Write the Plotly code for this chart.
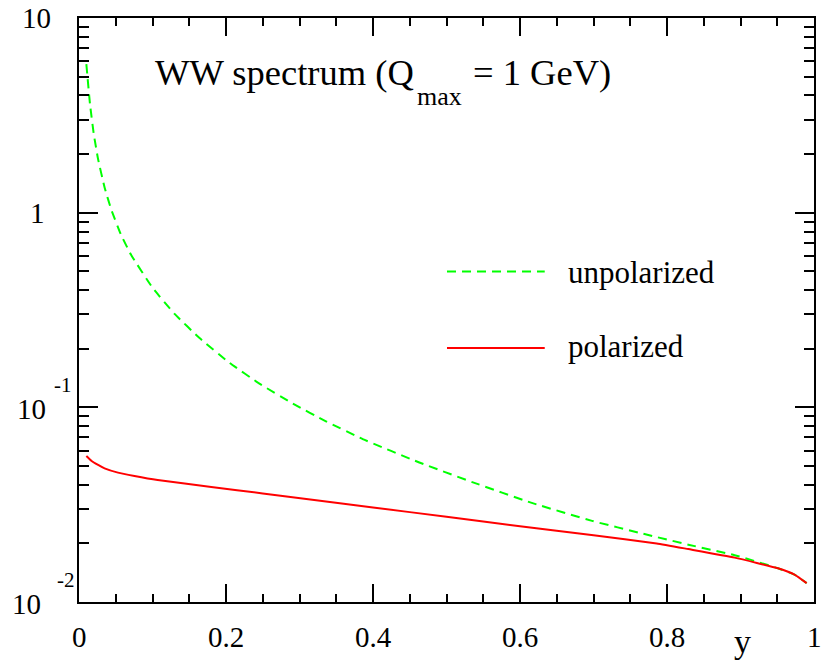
import math
import plotly.graph_objects as go

# Weizsaecker-Williams photon spectrum, Q_max = 1 GeV
y_unpol = [0.010, 0.015, 0.020, 0.026, 0.035, 0.044, 0.057, 0.071, 0.10, 0.13,
           0.164, 0.205, 0.246, 0.291, 0.336, 0.386, 0.463, 0.535, 0.616, 0.698,
           0.768, 0.829, 0.892, 0.951, 0.974, 0.990]
f_unpol = [5.8, 3.6, 2.55, 1.88, 1.34, 1.034, 0.772, 0.606, 0.412, 0.302,
           0.227, 0.169, 0.132, 0.1045, 0.0848, 0.0687, 0.0521, 0.0413, 0.0323, 0.0261,
           0.0224, 0.0197, 0.0174, 0.0149, 0.0138, 0.0125]

y_pol = [0.010, 0.0167, 0.026, 0.0348, 0.053, 0.0755, 0.107, 0.18, 0.25, 0.32, 0.40, 0.50,
         0.60, 0.70, 0.786, 0.829, 0.892, 0.951, 0.974, 0.990]
f_pol = [0.0562, 0.0532, 0.0506, 0.0486, 0.0462, 0.0444, 0.0423, 0.0390, 0.0361, 0.0334,
         0.0306, 0.0274, 0.0245, 0.0220, 0.0200, 0.0187, 0.0169, 0.0149, 0.0138, 0.0125]

# axis ticks
xtick_vals = [0, 0.2, 0.4, 0.6, 0.8, 1]
xtick_text = ["0", "0.2", "0.4", "0.6", "0.8", "1"]
# y-axis decade labels: value, mantissa text, exponent text
ytick_vals = [10, 1, 0.1, 0.01]
ytick_base = ["10", "1", "10", "10"]
ytick_exp = ["", "", "-1", "-2"]

series_names = ["unpolarized", "polarized"]
# title pieces: main text, subscript, remainder
title_parts = ["WW spectrum (Q", "max", "= 1 GeV)"]
xaxis_label = "y"

FONT = "Liberation Serif"
GREEN = "#00ff00"
RED = "#ff0000"

W, H = 821, 664
L, R, T, B = 79, 5, 18, 62
PW, PH = W - L - R, H - T - B


def px_x(px):
    return (px - L) / PW


def px_y(py):
    return (H - B - py) / PH


fig = go.Figure()
fig.add_trace(go.Scatter(x=y_unpol, y=f_unpol, mode="lines", name=series_names[0],
                         line=dict(color=GREEN, width=2, dash="9px,6px",
                                   shape="spline", smoothing=0.4),
                         showlegend=False))
fig.add_trace(go.Scatter(x=y_pol, y=f_pol, mode="lines", name=series_names[1],
                         line=dict(color=RED, width=2, shape="spline", smoothing=0.4),
                         showlegend=False))

axis_common = dict(showline=True, linewidth=2, linecolor="black", mirror="ticks",
                   ticks="inside", tickwidth=2, tickcolor="black",
                   showgrid=False, zeroline=False, showticklabels=False)

fig.update_xaxes(range=[0, 1], tickvals=xtick_vals, ticklen=18,
                 minor=dict(dtick=0.05, tick0=0, ticks="inside", ticklen=8, tickwidth=2,
                            tickcolor="black", showgrid=False),
                 **axis_common)
fig.update_yaxes(type="log", range=[-2, 1], dtick=1, ticklen=19,
                 minor=dict(dtick="D1", ticks="inside", ticklen=10, tickwidth=2,
                            tickcolor="black", showgrid=False),
                 **axis_common)

annotations = []
# tick labels under the horizontal axis, centred on their ticks
for v, t in zip(xtick_vals, xtick_text):
    annotations.append(dict(x=v, xref="x", y=px_y(637), yref="paper",
                            text=t, showarrow=False, xanchor="center", yanchor="middle",
                            font=dict(family=FONT, size=29, color="black")))

# decade labels on the value axis
base_right = {0: 53, 1: 47, 2: 48, 3: 43}
exp_left = {2: 52, 3: 55}
for i, (v, b, e) in enumerate(zip(ytick_vals, ytick_base, ytick_exp)):
    annotations.append(dict(x=px_x(base_right[i]), xref="paper", y=math.log10(v), yref="y",
                            text=b, showarrow=False, xanchor="right", yanchor="middle",
                            yshift=-2 if e else 0,
                            font=dict(family=FONT, size=29, color="black")))
    if e:
        annotations.append(dict(x=px_x(exp_left[i]), xref="paper", y=math.log10(v), yref="y",
                                text=e, showarrow=False, xanchor="left", yanchor="middle",
                                yshift=22,
                                font=dict(family=FONT, size=21, color="black")))

# title inside the frame, with a lowered subscript
title_layout = [(153, 72, 36.5), (416, 96.5, 26), (472, 72, 36.5)]
for txt, (tx, ty, fs) in zip(title_parts, title_layout):
    annotations.append(dict(x=px_x(tx), xref="paper", y=px_y(ty), yref="paper",
                            text=txt, showarrow=False, xanchor="left", yanchor="middle",
                            font=dict(family=FONT, size=fs, color="black")))

# x-axis label
annotations.append(dict(x=px_x(744), xref="paper", y=px_y(641), yref="paper",
                        text=xaxis_label, showarrow=False, xanchor="center", yanchor="middle",
                        font=dict(family=FONT, size=34, color="black")))

# legend entries drawn by hand
legend_rows = [(271.5, 272.5, GREEN, "9px,6px", series_names[0]),
               (348, 346.5, RED, "solid", series_names[1])]
shapes = []
for py, ty, col, dash, label in legend_rows:
    shapes.append(dict(type="line", xref="paper", yref="paper",
                       x0=px_x(448), x1=px_x(546), y0=px_y(py), y1=px_y(py),
                       line=dict(color=col, width=2, dash=dash)))
    annotations.append(dict(x=px_x(567), xref="paper", y=px_y(ty), yref="paper",
                            text=label, showarrow=False, xanchor="left", yanchor="middle",
                            font=dict(family=FONT, size=31, color="black")))

fig.update_layout(width=W, height=H, margin=dict(l=L, r=R, t=T, b=B, pad=0),
                  paper_bgcolor="white", plot_bgcolor="white",
                  font=dict(family=FONT, color="black"),
                  annotations=annotations, shapes=shapes, showlegend=False)

fig.write_html("out.html")
